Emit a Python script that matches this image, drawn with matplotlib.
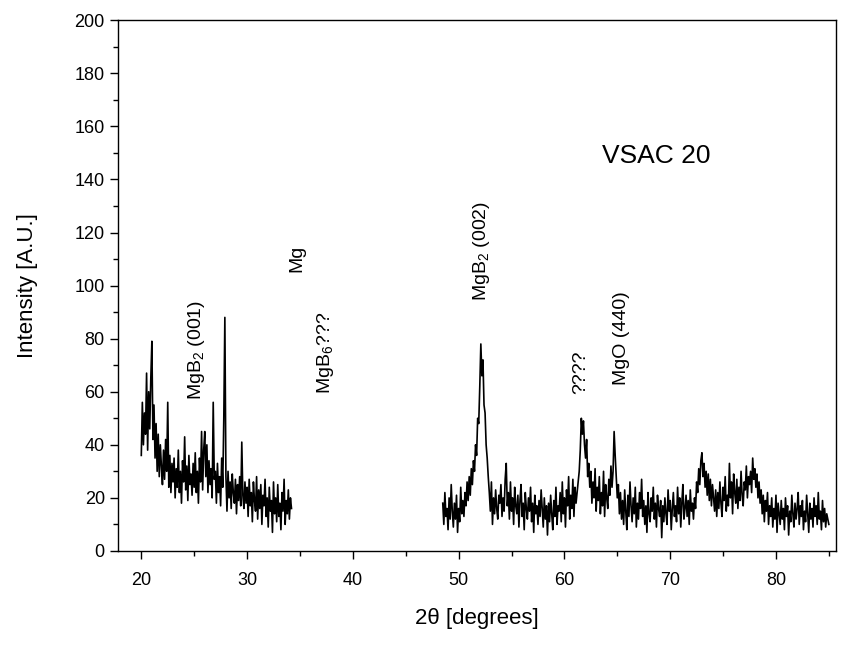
import numpy as np
import matplotlib
matplotlib.use("Agg")
import matplotlib.pyplot as plt
from matplotlib.ticker import MultipleLocator

plt.rcParams['font.family'] = ['Liberation Sans', 'DejaVu Sans']
plt.rcParams['mathtext.default'] = 'regular'

# -----------------------------
# data (0.1 deg steps)
# -----------------------------
scan1_start = 20.0
scan1_intensity = [
    36, 56, 40, 52, 44, 67, 38, 60, 46, 65,
    79, 42, 55, 35, 48, 30, 44, 28, 40, 32,
    25, 38, 27, 42, 30, 56, 24, 36, 22, 33,
    26, 35, 20, 31, 24, 38, 22, 30, 18, 34,
    26, 43, 23, 32, 19, 36, 25, 29, 21, 33,
    24, 37, 22, 30, 18, 35, 26, 45, 23, 38,
    45, 28, 40, 22, 34, 25, 31, 20, 56, 27,
    30, 18, 33, 22, 28, 17, 35, 24, 50, 88,
    28, 15, 30, 20, 26, 16, 29, 22, 18, 27,
    14, 25, 19, 28, 17, 41, 21, 16, 26, 18,
    24, 13, 27, 17, 22, 11, 26, 19, 15, 28,
    12, 23, 16, 25, 10, 21, 17, 27, 13, 20,
    9, 24, 15, 19, 7, 26, 14, 20, 11, 25,
    13, 18, 8, 22, 15, 27, 10, 19, 14, 23,
    12, 20, 16,
]

scan2_start = 48.5
scan2_intensity = [
    18, 10, 22, 13, 16, 8, 20, 12, 25, 15,
    9, 18, 12, 21, 7, 16, 11, 24, 14, 19,
    13, 22, 17, 26, 19, 28, 21, 31, 25, 34,
    30, 40, 36, 50, 48, 62, 78, 66, 72, 55,
    52, 40, 35, 28, 22, 15, 26, 10, 20, 14,
    23, 16, 12, 21, 18, 25, 13, 20, 15, 27,
    33, 17, 22, 12, 26, 15, 20, 10, 24, 17,
    14, 21, 9, 19, 25, 13, 18, 8, 22, 16,
    12, 20, 15, 24, 11, 18, 7, 21, 14, 17,
    10, 19, 13, 23, 16, 9, 20, 12, 17, 6,
    18, 11, 21, 14, 8, 19, 13, 24, 10, 17,
    15, 22, 11, 26, 14, 20, 9, 23, 17, 28,
    12, 21, 16, 27, 13, 24, 18, 22, 26, 30,
    38, 50, 44, 49, 40, 35, 42, 28, 33, 24,
    30, 18, 26, 20, 31, 15, 24, 19, 28, 14,
    22, 17, 30, 13, 25, 20, 16, 27, 21, 32,
    24, 30, 45, 36, 28, 20, 25, 14, 22, 12,
    19, 10, 23, 15, 8, 21, 13, 26, 17, 11,
    20, 14, 24, 9, 18, 12, 22, 16, 27, 13,
    19, 10, 17, 7, 22, 14, 11, 20, 15, 24,
    12, 18, 9, 21, 16, 13, 19, 5, 17, 11,
    20, 14, 10, 23, 15, 19, 8, 16, 22, 13,
    17, 11, 24, 14, 20, 9, 18, 25, 12, 16,
    21, 13, 19, 10, 23, 15, 18, 12, 20, 16,
    26, 22, 31, 25, 34, 37, 28, 33, 24, 30,
    21, 29, 19, 27, 17, 25, 20, 15, 23, 13,
    22, 16, 26, 18, 13, 24, 19, 28, 15, 21,
    17, 33, 20, 26, 14, 29, 22, 18, 27, 16,
    24, 19, 30, 21, 17, 26, 23, 32, 20, 28,
    25, 30, 22, 35, 27, 31, 24, 29, 20, 26,
    18, 23, 14, 21, 11, 19, 15, 22, 10, 17,
    13, 20, 9, 16, 12, 21, 7, 18, 14, 10,
    19, 12, 16, 8, 20, 13, 17, 6, 15, 11,
    21, 14, 9, 18, 12, 16, 22, 10, 17, 13,
    19, 8, 15, 11, 21, 14, 7, 18, 12, 16,
    9, 20, 13, 17, 10, 22, 12, 15, 8, 19,
    11, 16, 9, 14, 12, 10,
]
step = 0.1

peak_labels = ["MgB$_2$ (001)", "Mg", "MgB$_6$???", "MgB$_2$ (002)", "????", "MgO (440)"]
peak_x = [25.2, 34.75, 37.4, 52.2, 61.5, 65.4]
peak_y = [57, 105, 59, 94, 59, 62.5]

# -----------------------------
# plot
# -----------------------------
fig = plt.figure(figsize=(8.43, 6.52), dpi=100)
ax = fig.add_axes([0.140, 0.155, 0.852, 0.814])

x1 = scan1_start + step * np.arange(len(scan1_intensity))
x2 = scan2_start + step * np.arange(len(scan2_intensity))
ax.plot(x1, scan1_intensity, color='black', lw=1.2)
ax.plot(x2, scan2_intensity, color='black', lw=1.2)

for lab, px, py in zip(peak_labels, peak_x, peak_y):
    ax.text(px, py, lab, rotation=90, ha='center', va='bottom', fontsize=14)

ax.text(63.6, 149, "VSAC 20", fontsize=19, ha='left', va='center')

ax.set_xlim(17.8, 85.7)
ax.set_ylim(0, 200)
ax.xaxis.set_major_locator(MultipleLocator(10))
ax.xaxis.set_minor_locator(MultipleLocator(5))
ax.yaxis.set_major_locator(MultipleLocator(20))
ax.yaxis.set_minor_locator(MultipleLocator(10))
ax.tick_params(which='both', direction='out', top=False, right=False, labelsize=13, width=1)
ax.tick_params(which='major', length=6)
ax.tick_params(which='minor', length=3.5)
ax.tick_params(axis='x', pad=9)
for s in ax.spines.values():
    s.set_linewidth(1)

ax.set_xlabel("2θ [degrees]", fontsize=16, labelpad=14)
ax.set_ylabel("Intensity [A.U.]", fontsize=16, labelpad=26)

fig.savefig("out.png", dpi=100)
